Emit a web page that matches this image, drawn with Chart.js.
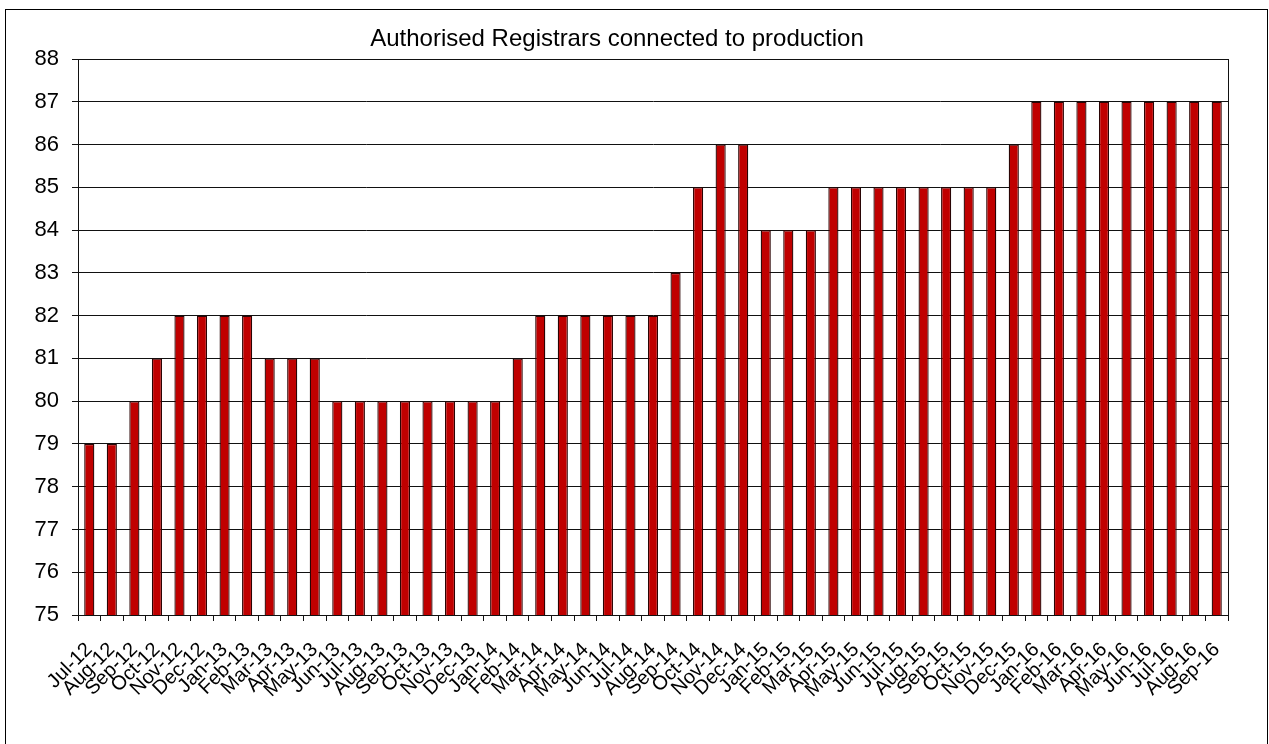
<!DOCTYPE html>
<html>
<head>
<meta charset="utf-8">
<title>Authorised Registrars connected to production</title>
<script src="https://cdn.jsdelivr.net/npm/chart.js@4.4.0/dist/chart.umd.min.js"></script>
<style>
  html, body { margin: 0; padding: 0; overflow: hidden; background: #fff; }
  #frame { position: absolute; left: 5px; top: 9px; width: 1261px; height: 800px; border: 1px solid #000; }
  canvas { display: block; }
</style>
</head>
<body>
<div id="frame">
  <canvas id="registrars" width="1261" height="734"></canvas>
</div>
<script>
const months = [
  'Jul-12', 'Aug-12', 'Sep-12', 'Oct-12', 'Nov-12', 'Dec-12',
  'Jan-13', 'Feb-13', 'Mar-13', 'Apr-13', 'May-13', 'Jun-13',
  'Jul-13', 'Aug-13', 'Sep-13', 'Oct-13', 'Nov-13', 'Dec-13',
  'Jan-14', 'Feb-14', 'Mar-14', 'Apr-14', 'May-14', 'Jun-14',
  'Jul-14', 'Aug-14', 'Sep-14', 'Oct-14', 'Nov-14', 'Dec-14',
  'Jan-15', 'Feb-15', 'Mar-15', 'Apr-15', 'May-15', 'Jun-15',
  'Jul-15', 'Aug-15', 'Sep-15', 'Oct-15', 'Nov-15', 'Dec-15',
  'Jan-16', 'Feb-16', 'Mar-16', 'Apr-16', 'May-16', 'Jun-16',
  'Jul-16', 'Aug-16', 'Sep-16'
];

const registrars = [
  79, 79, 80, 81, 82, 82,
  82, 82, 81, 81, 81, 80,
  80, 80, 80, 80, 80, 80,
  80, 81, 82, 82, 82, 82,
  82, 82, 83, 85, 86, 86,
  84, 84, 84, 85, 85, 85,
  85, 85, 85, 85, 85, 86,
  87, 87, 87, 87, 87, 87,
  87, 87, 87
];

const yMin = 75;
const yMax = 88;

const font = "'Liberation Sans', Arial, sans-serif";

// box round the plot area (top gridline + right edge)
const plotFrame = {
  id: 'plotFrame',
  beforeDatasetsDraw(chart) {
    const { ctx, chartArea: a } = chart;
    ctx.save();
    ctx.strokeStyle = '#111';
    ctx.lineWidth = 1;
    ctx.strokeRect(Math.round(a.left) + 0.5, Math.round(a.top) + 0.5,
      Math.round(a.right - a.left), Math.round(a.bottom - a.top));
    ctx.restore();
  }
};

new Chart(document.getElementById('registrars'), {
  type: 'bar',
  data: {
    labels: months,
    datasets: [{
      data: registrars,
      backgroundColor: '#C00000',
      borderColor: '#2a0404',
      borderWidth: 1.3,
      barPercentage: 0.45,
      categoryPercentage: 1
    }]
  },
  options: {
    responsive: false,
    animation: false,
    layout: { padding: { left: 0, right: 39, top: 0, bottom: 0 } },
    plugins: {
      legend: { display: false },
      tooltip: { enabled: false },
      title: {
        display: true,
        text: 'Authorised Registrars connected to production',
        color: '#000',
        font: { family: font, size: 24, weight: 'normal', lineHeight: 1.2 },
        padding: { top: 15, bottom: 5.2 }
      }
    },
    scales: {
      x: {
        grid: { drawOnChartArea: false, tickLength: 6, color: '#111' },
        border: { color: '#111' },
        ticks: {
          autoSkip: false,
          minRotation: 45,
          maxRotation: 45,
          padding: 17,
          color: '#000',
          font: { family: font, size: 20 }
        },
        afterFit(scale) { scale.height = 129; }
      },
      y: {
        min: yMin,
        max: yMax,
        grid: { color: '#111', tickLength: 6 },
        border: { color: '#111' },
        ticks: {
          stepSize: 1,
          padding: 13,
          color: '#000',
          font: { family: font, size: 22 }
        },
        afterFit(scale) { scale.width = 72; }
      }
    }
  },
  plugins: [plotFrame]
});
</script>
</body>
</html>
